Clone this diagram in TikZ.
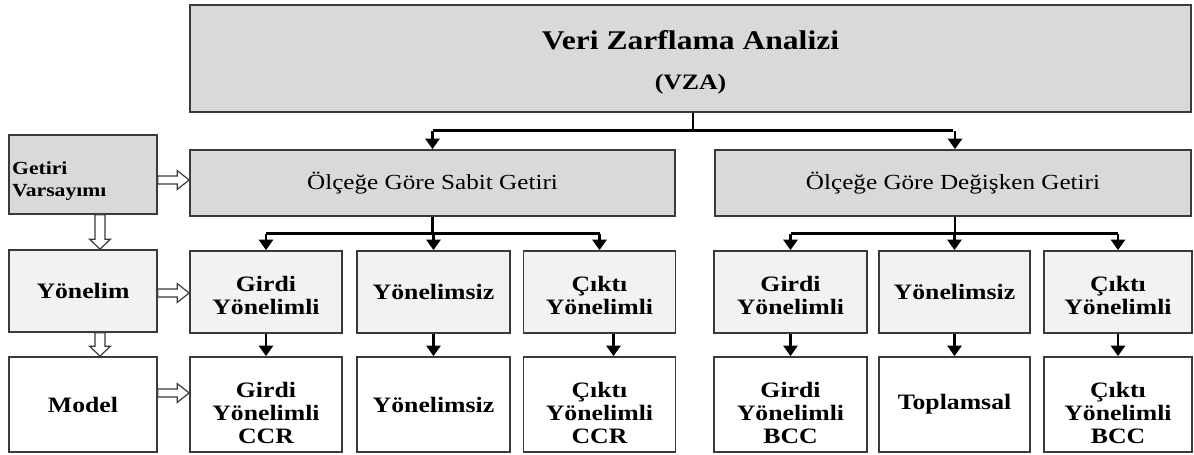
\documentclass[tikz,border=0pt]{standalone}
\usepackage{fontspec}
\setmainfont{Liberation Serif}[FakeStretch=1.17]
\usetikzlibrary{arrows.meta,calc}
\definecolor{gD}{HTML}{D9D9D9}
\definecolor{gL}{HTML}{F2F2F2}
\definecolor{bd}{HTML}{3A3A3A}
\newcommand\lift[1]{\rule{0pt}{#1}}
\begin{document}
\begin{tikzpicture}[x=1pt,y=-1pt,
  box/.style={draw=bd, line width=1.7pt, inner sep=0pt, align=center,
    font=\fontsize{22}{23}\selectfont\bfseries},
  dark/.style={box, fill=gD},
  light/.style={box, fill=gL},
  plain/.style={box, fill=white},
  conn/.style={line width=2.8pt, draw=black},
  arr/.style={conn, -{Triangle[width=14pt,length=10.5pt]}},
  harrow/.style={draw=bd, fill=white, line width=1.2pt,
    to path={let \p1=(\tikztostart), \p2=(\tikztotarget) in
      (\x1,\y1+4pt) -- (\x2-12pt,\y1+4pt) -- (\x2-12pt,\y1+9.5pt) -- (\x2,\y1)
      -- (\x2-12pt,\y1-9.5pt) -- (\x2-12pt,\y1-4pt) -- (\x1,\y1-4pt) -- cycle}},
  varrow/.style={draw=bd, fill=white, line width=1.2pt,
    to path={let \p1=(\tikztostart), \p2=(\tikztotarget) in
      (\x1-5pt,\y1) -- (\x1-5pt,\y2+10pt) -- (\x1-10.5pt,\y2+10pt) -- (\x1,\y2)
      -- (\x1+10.5pt,\y2+10pt) -- (\x1+5pt,\y2+10pt) -- (\x1+5pt,\y1) -- cycle}}
]
\useasboundingbox (0,0) rectangle (1194,455);

% top
\node[dark, minimum width=1001pt, minimum height=107pt] (vza) at (690.5,58.5)
  {\fontsize{27}{30}\selectfont\lift{27pt}Veri Zarflama Analizi\\[17pt]\fontsize{22}{26}\selectfont (VZA)};

% second row
\node[dark, minimum width=485pt, minimum height=66pt,
  font=\fontsize{21.5}{24}\selectfont] (sabit) at (432.5,183) {Ölçeğe Göre Sabit Getiri};
\node[dark, minimum width=476pt, minimum height=66pt,
  font=\fontsize{21.5}{24}\selectfont] (degisken) at (953,183) {Ölçeğe Göre Değişken Getiri};

% left column
\node[dark, minimum width=148pt, minimum height=79pt] (getiri) at (83,174.5) {};
\node[anchor=west, align=left, inner sep=0pt,
  font=\fontsize{18.5}{22}\selectfont\bfseries] (getiritxt) at (12,181) {Getiri\\Varsayımı};
\node[light, minimum width=148pt, minimum height=82pt] (yonelim) at (83,291) {Yönelim};
\node[plain, minimum width=148pt, minimum height=95pt] (model) at (83,404.5) {Model};

% third row
\node[light, minimum width=152pt, minimum height=82pt] (l1) at (266,292) {\lift{22pt}Girdi\\Yönelimli};
\node[light, minimum width=153pt, minimum height=82pt] (l2) at (433.5,292) {Yönelimsiz};
\node[light, minimum width=152pt, minimum height=82pt] (l3) at (599.5,292) {\lift{22pt}Çıktı\\Yönelimli};
\node[light, minimum width=153pt, minimum height=82pt] (r1) at (790.5,292) {\lift{22pt}Girdi\\Yönelimli};
\node[light, minimum width=151pt, minimum height=82pt] (r2) at (954.5,292) {Yönelimsiz};
\node[light, minimum width=148pt, minimum height=82pt] (r3) at (1118,292) {\lift{22pt}Çıktı\\Yönelimli};

% fourth row
\node[plain, minimum width=152pt, minimum height=95pt] (l1b) at (266,404.5) {\lift{33pt}Girdi\\Yönelimli\\CCR};
\node[plain, minimum width=153pt, minimum height=95pt] (l2b) at (433.5,404.5) {Yönelimsiz};
\node[plain, minimum width=152pt, minimum height=95pt] (l3b) at (599.5,404.5) {\lift{33pt}Çıktı\\Yönelimli\\CCR};
\node[plain, minimum width=153pt, minimum height=95pt] (r1b) at (790.5,404.5) {\lift{33pt}Girdi\\Yönelimli\\BCC};
\node[plain, minimum width=151pt, minimum height=95pt] (r2b) at (954.5,404.5) {Toplamsal};
\node[plain, minimum width=148pt, minimum height=95pt] (r3b) at (1118,404.5) {\lift{33pt}Çıktı\\Yönelimli\\BCC};

% top branching
\coordinate (tb) at ($(vza.south)+(2.5pt,-18pt)$);
\draw[conn] ([xshift=2.5pt]vza.south) -- (tb);
\draw[conn] (sabit.north |- tb) -- (degisken.north |- tb);
\draw[arr] (sabit.north |- tb) -- (sabit.north);
\draw[arr] ([xshift=2pt]degisken.north |- tb) -- ([xshift=2pt]degisken.north);

% left group branching
\coordinate (lb) at ($(sabit.south)+(0,-17pt)$);
\draw[conn] (sabit.south) -- (lb);
\draw[conn] (l1.north |- lb) -- (l3.north |- lb);
\draw[arr] (l1.north |- lb) -- (l1.north);
\draw[arr] (l2.north |- lb) -- (l2.north);
\draw[arr] (l3.north |- lb) -- (l3.north);

% right group branching
\coordinate (rb) at ($(degisken.south)+(2pt,-17pt)$);
\draw[conn] ([xshift=2pt]degisken.south) -- (rb);
\draw[conn] (r1.north |- rb) -- (r3.north |- rb);
\draw[arr] (r1.north |- rb) -- (r1.north);
\draw[arr] (r2.north |- rb) -- (r2.north);
\draw[arr] (r3.north |- rb) -- (r3.north);

% row 3 to row 4
\draw[arr] (l1.south) -- (l1b.north);
\draw[arr] (l2.south) -- (l2b.north);
\draw[arr] ([xshift=14pt]l3.south) -- ([xshift=14pt]l3b.north);
\draw[arr] (r1.south) -- (r1b.north);
\draw[arr] (r2.south) -- (r2b.north);
\draw[arr] (r3.south) -- (r3b.north);

% hollow arrows
\draw[harrow] ([yshift=-5.5pt]getiri.east) to (sabit.west);
\draw[harrow] ([yshift=-2pt]yonelim.east) to (l1.west);
\draw[harrow] ([yshift=11.5pt]model.east) to (l1b.west);
\draw[varrow] ([xshift=17pt]getiri.south) to ([xshift=17pt]yonelim.north);
\draw[varrow] ([xshift=17pt]yonelim.south) to ([xshift=17pt]model.north);
\end{tikzpicture}
\end{document}
